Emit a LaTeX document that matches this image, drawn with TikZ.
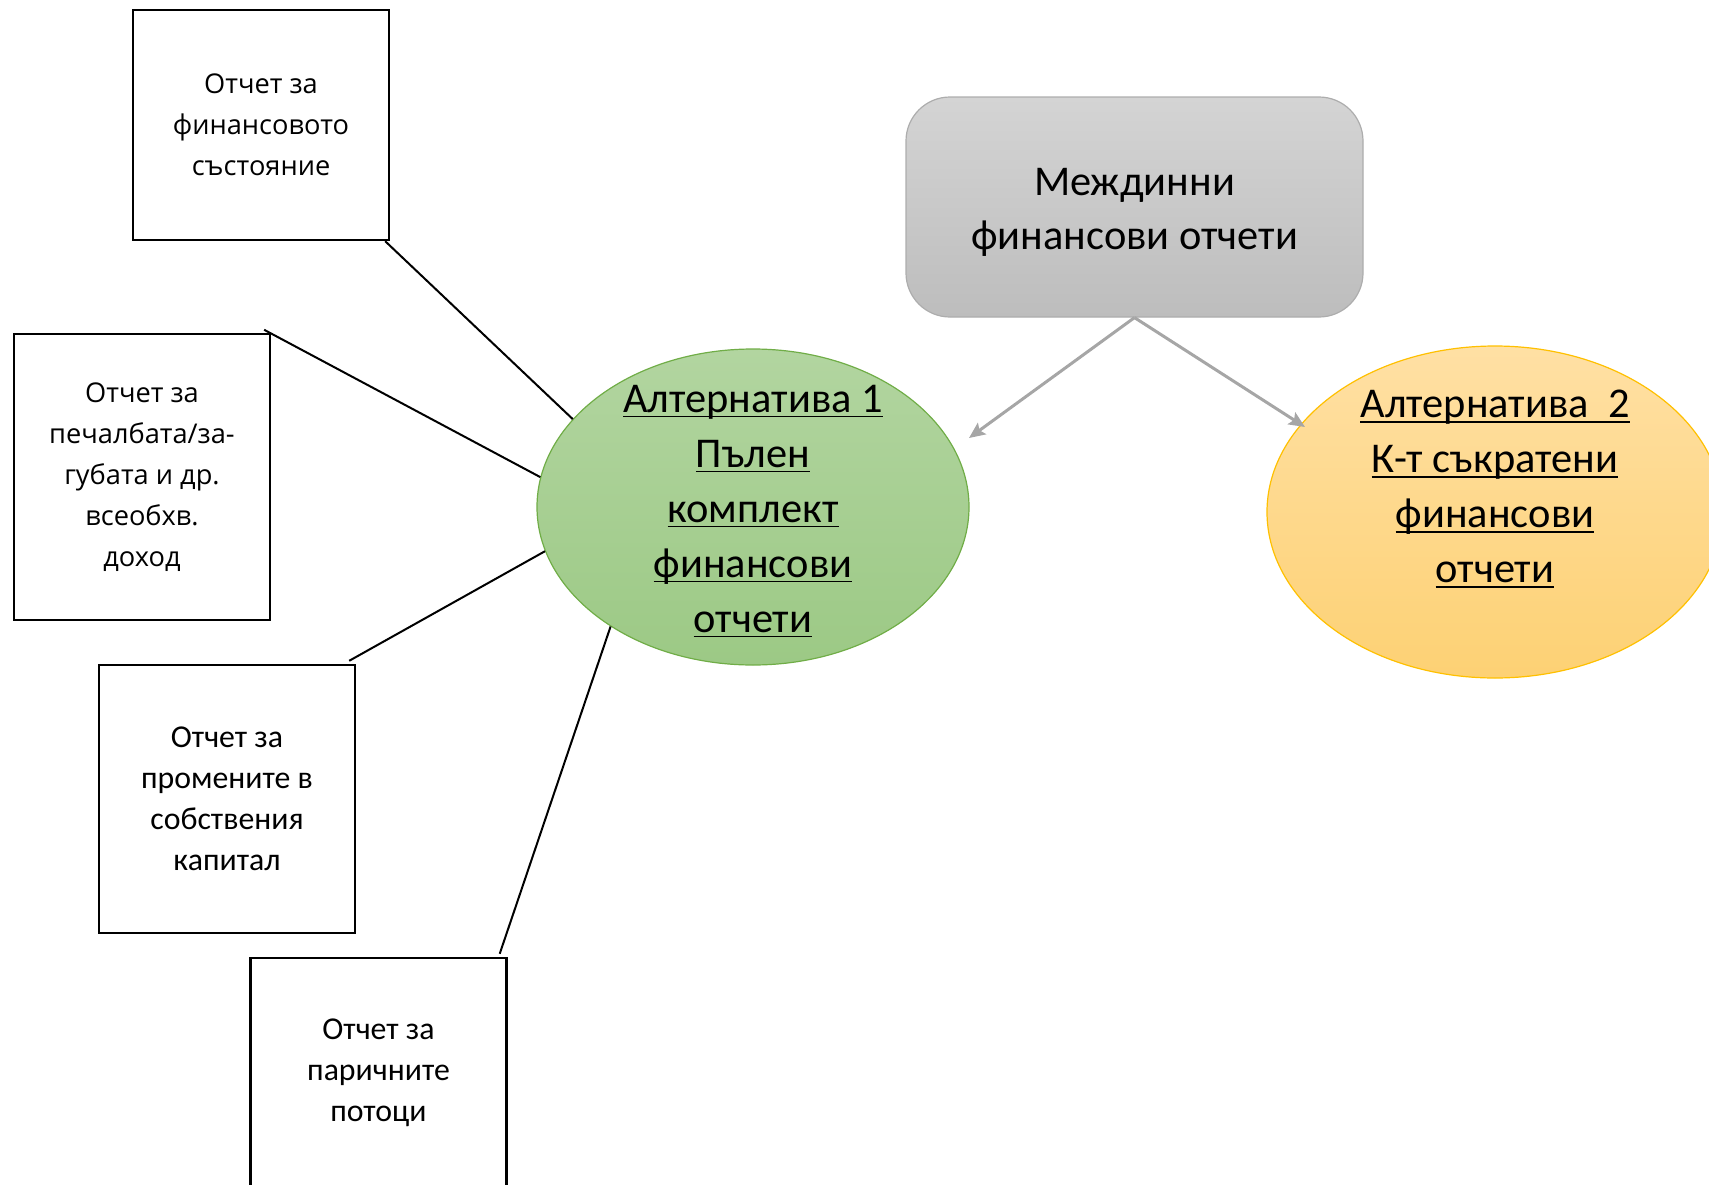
\documentclass[tikz,border=0pt]{standalone}
\usepackage{fontspec}
\setmainfont{Carlito}
\newfontfamily\wfont{Open Sans}
\usetikzlibrary{shapes.geometric,arrows.meta}
\definecolor{gtop}{HTML}{D4D4D4}
\definecolor{gbot}{HTML}{BDBDBD}
\definecolor{gline}{HTML}{ADADAD}
\definecolor{grtop}{HTML}{B2D5A0}
\definecolor{grbot}{HTML}{9CC985}
\definecolor{grline}{HTML}{70AD47}
\definecolor{ortop}{HTML}{FFE0A4}
\definecolor{orbot}{HTML}{FDD174}
\definecolor{orline}{HTML}{FFC000}
\definecolor{arrgrey}{HTML}{A6A6A6}
\newcommand\uln[1]{\setbox0\hbox{#1}\rlap{\rule[-2.6pt]{\wd0}{0.7pt}}\box0}
\begin{document}
\begin{tikzpicture}[x=0.5pt,y=-0.5pt,
  repbox/.style={draw=black, line width=1.2pt, minimum width=128pt, align=center, inner sep=0pt, fill=white},
  wtext/.style={font=\wfont\fontsize{13.6}{20.5}\selectfont},
  ctext/.style={font=\fontsize{15.9}{20.5}\selectfont},
  link/.style={draw=black, line width=1pt},
  garrow/.style={draw=arrgrey, line width=1.5pt, -{Stealth[length=8pt,width=7pt,inset=1.5pt]}},
  bigtext/.style={font=\fontsize{21.2}{27.5}\selectfont, align=center}
]
\useasboundingbox (0,0) rectangle (1709,1184);

% main nodes
\node[draw=gline, line width=0.6pt, rounded corners=22pt, top color=gtop, bottom color=gbot,
      minimum width=228.5pt, minimum height=110pt] (m) at (1134.5,207) {};
\node[align=center, font=\fontsize{21.2}{27}\selectfont] (mt) at (1134.5,212) {Междинни\\финансови отчети};

\node[ellipse, draw=grline, line width=0.6pt, top color=grtop, bottom color=grbot,
      minimum width=216pt, minimum height=158pt, inner sep=0pt] (g) at (753,507) {};
\node[bigtext] (gtx) at (753,511)
      {\uln{Алтернатива 1}\\\uln{Пълен}\\\uln{комплект}\\\uln{финансови}\\\uln{отчети}};

\node[ellipse, draw=orline, line width=0.6pt, top color=ortop, bottom color=orbot,
      minimum width=228pt, minimum height=166pt, inner sep=0pt] (o) at (1495,512) {};
\node[bigtext] (ot) at (1495,489)
      {\uln{Алтернатива\ \ 2}\\\uln{К-т съкратени}\\\uln{финансови}\\\uln{отчети}};

% report boxes
\node[repbox, wtext, minimum height=115pt] (b1) at (261,125) {Отчет за\\финансовото\\състояние};
\node[repbox, wtext, minimum height=143pt] (b2) at (142,477) {Отчет за\\печалбата/за-\\губата и др.\\всеобхв.\\доход};
\node[repbox, ctext, minimum height=134pt] (b3) at (227,799) {Отчет за\\промените в\\собствения\\капитал};
\node[repbox, ctext, minimum height=115pt] (b4) at (378.5,1073) {Отчет за\\паричните\\потоци};

% connectors
\draw[link] ([xshift=-2.5pt]b1.south east) -- (g.154.7);
\draw[link] ([xshift=-3.5pt,yshift=1.5pt]b2.north east) -- (g.172.8);
\draw[link] ([xshift=-3.5pt,yshift=1.5pt]b3.north east) -- (g.192.4);
\draw[link] ([xshift=-4pt,yshift=1.5pt]b4.north east) -- (g.220.7);

\coordinate (gt) at (969,438);
\coordinate (otip) at (1305,427);
\draw[garrow] (m.south) -- (gt);
\draw[garrow] (m.south) -- (otip);
\end{tikzpicture}
\end{document}
